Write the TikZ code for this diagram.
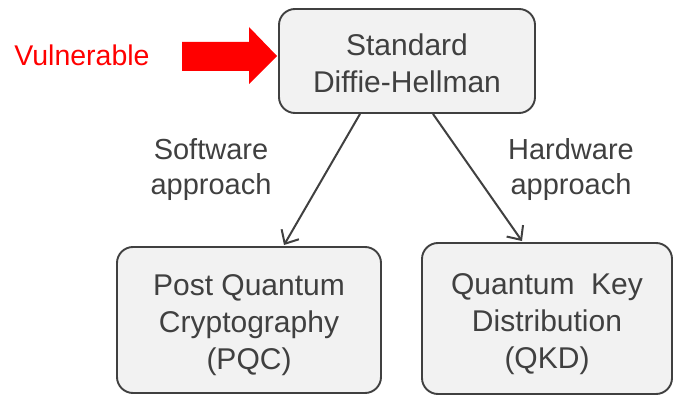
\documentclass[tikz,border=0pt]{standalone}
\usepackage{fontspec}
\setmainfont{Liberation Sans}
\usetikzlibrary{arrows.meta,calc}
\definecolor{txt}{HTML}{404040}
\definecolor{boxfill}{HTML}{F2F2F2}
\definecolor{edge}{HTML}{404040}
\begin{document}
\begin{tikzpicture}[x=1pt,y=-1pt,
  box/.style={draw=edge,line width=1.9pt,fill=boxfill,rounded corners=16pt,
    text=txt,align=center,inner sep=0pt,
    font=\fontsize{30}{37}\selectfont},
  lbl/.style={text=txt,align=center,inner sep=0pt,font=\fontsize{29}{35}\selectfont},
  conn/.style={draw=edge,line width=2pt,-{Straight Barb[length=11pt,width=20pt,line width=2pt]}}]
\useasboundingbox (0,0) rectangle (675,396);
\node[box,minimum width=256pt,minimum height=104pt] (top) at (407,61) {\rule{0pt}{27pt}Standard\\Diffie-Hellman};
\node[box,minimum width=264pt,minimum height=146pt] (pqc) at (249,320) {\rule{0pt}{32pt}Post Quantum\\Cryptography\\(PQC)};
\node[box,minimum width=250pt,minimum height=151pt] (qkd) at (547,318.5) {\rule{0pt}{32pt}Quantum\ \ Key\\Distribution\\(QKD)};
\node[lbl] (sw) at (211,170) {Software\\approach};
\node[lbl] (hw) at (571,170) {Hardware\\approach};
\node[text=red,inner sep=0pt,font=\fontsize{28.5}{30}\selectfont] (vul) at (82,55) {Vulnerable};
\fill[red] (182,42) -- (249,42) -- (249,27) -- (277,56) -- (249,84) -- (249,71) -- (182,71) -- cycle;
\draw[conn] ($(top.south)+(-47,0)$) -- ($(pqc.north)+(35,-1)$);
\draw[conn] ($(top.south)+(26,0)$) -- ($(qkd.north)+(-25,-1)$);
\end{tikzpicture}
\end{document}
